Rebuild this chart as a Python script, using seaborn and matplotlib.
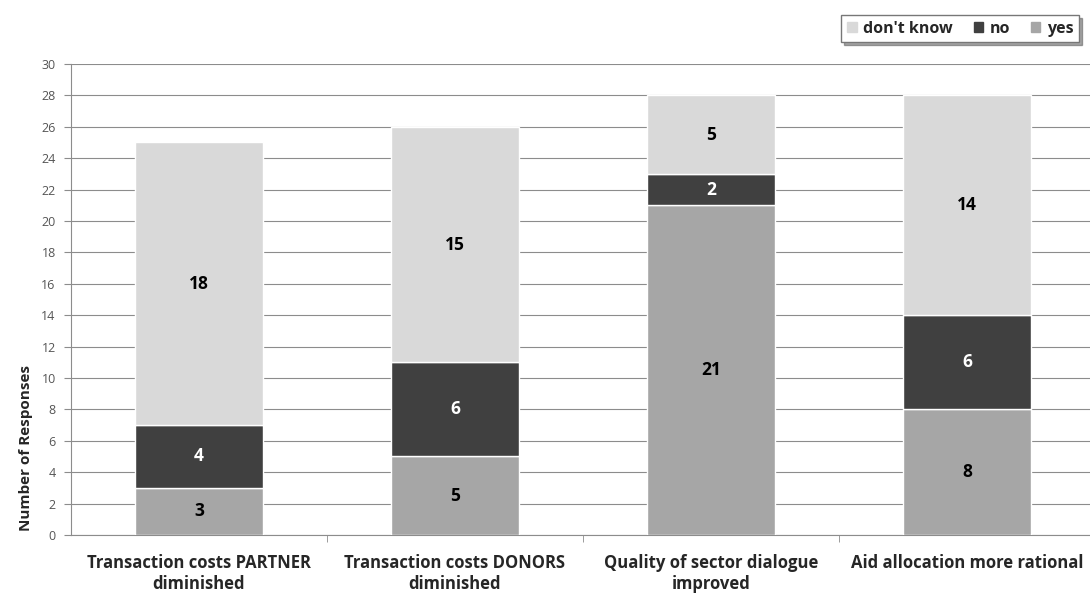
import seaborn as sns
import pandas as pd
import matplotlib.pyplot as plt
from matplotlib.patches import Patch

categories = ['Transaction costs PARTNER\ndiminished',
              'Transaction costs DONORS\ndiminished',
              'Quality of sector dialogue\nimproved',
              'Aid allocation more rational']
yes = [3, 5, 21, 8]
no = [4, 6, 2, 6]
dont_know = [18, 15, 5, 14]

colors = {'yes': '#a6a6a6', 'no': '#404040', "don't know": '#d9d9d9'}

df = pd.DataFrame({'cat': categories, 'yes': yes, 'no': no, "don't know": dont_know})

sns.set_style('white')
plt.rcParams['font.family'] = ['Open Sans', 'DejaVu Sans']

fig = plt.figure(figsize=(10.9, 5.97), dpi=100)
ax = fig.add_axes([0.0651, 0.1039, 0.9394, 0.7889])

bottom = [0] * len(categories)
for series in ['yes', 'no', "don't know"]:
    sns.barplot(data=df, x='cat', y=series, color=colors[series], bottom=bottom,
                width=0.5, edgecolor='white', linewidth=1, ax=ax, zorder=3)
    for i, v in enumerate(df[series]):
        ax.text(i, bottom[i] + v / 2, str(v), ha='center', va='center',
                fontsize=12.5, fontweight='bold',
                color='white' if series == 'no' else 'black', zorder=4)
    bottom = [b + v for b, v in zip(bottom, df[series])]

ax.set_xlim(-0.5, 3.5)
ax.set_ylim(0, 30)
ax.set_yticks(range(0, 31, 2))
ax.yaxis.grid(True, color='#8c8c8c', linewidth=0.8, zorder=0)
ax.set_axisbelow(True)
ax.tick_params(axis='y', labelsize=9, labelcolor='#555555', length=5,
               color='#8c8c8c', left=True, direction='out', pad=6)
ax.tick_params(axis='x', which='major', length=0, labelsize=12, pad=14)
ax.set_xticks([0.5, 1.5, 2.5], minor=True)
ax.tick_params(axis='x', which='minor', length=5, color='#8c8c8c', bottom=True, direction='out')
for lbl in ax.get_xticklabels():
    lbl.set_fontweight('bold')
ax.set_xlabel('')
ax.set_ylabel('Number of Responses', fontsize=11, fontweight='bold')
ax.yaxis.set_label_coords(-0.037, 0.185)
for s in ['top', 'right']:
    ax.spines[s].set_visible(False)
ax.spines['left'].set_color('#8c8c8c')
ax.spines['bottom'].set_color('#8c8c8c')

handles = [Patch(color=colors[k], label=k) for k in ["don't know", 'no', 'yes']]
leg = fig.legend(handles=handles, loc='upper left', bbox_to_anchor=(0.772, 0.975),
                 ncol=3, frameon=True, shadow=True, fancybox=False,
                 handlelength=0.6, handleheight=0.6, handletextpad=0.4,
                 columnspacing=1.3, borderpad=0.35, borderaxespad=0,
                 prop={'weight': 'bold', 'size': 11.5})
leg.get_frame().set_edgecolor('#777777')

fig.savefig('out.png', dpi=100)
